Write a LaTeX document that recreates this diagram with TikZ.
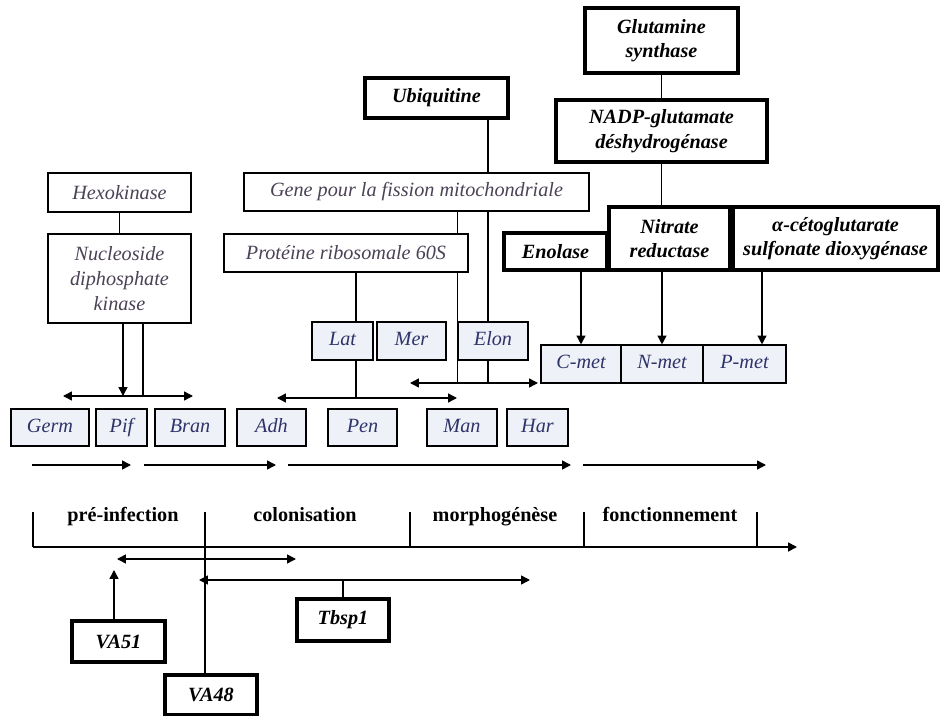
\documentclass[tikz,border=0pt]{standalone}
\usepackage{fontspec}
\setmainfont{Liberation Serif}
\usetikzlibrary{arrows.meta}
\definecolor{boxblue}{HTML}{EEF1F8}
\definecolor{inkblue}{HTML}{2E3468}
\definecolor{inkgrey}{HTML}{4B4256}
\tikzset{
	genebox/.style={draw, line width=0.9pt, fill=white, text=inkgrey, align=center, inner sep=1pt, font=\fontsize{11.5}{14}\selectfont\itshape},
	keybox/.style={draw, line width=1.8pt, fill=white, align=center, inner sep=1pt, font=\fontsize{11.5}{14}\selectfont\bfseries\itshape},
	stagebox/.style={draw, line width=0.9pt, fill=boxblue, text=inkblue, minimum height=0.75cm, text height=1.6ex, text depth=0.4ex, inner sep=1pt, font=\fontsize{11.5}{14}\selectfont\itshape},
	phase/.style={text height=1.6ex, text depth=0.4ex, font=\fontsize{11.5}{14}\selectfont\bfseries},
	conn/.style={line width=0.8pt},
	axis/.style={line width=1pt},
	tip/.style={-{Triangle[length=5pt,width=5pt]}},
	tips/.style={{Triangle[length=5pt,width=5pt]}-{Triangle[length=5pt,width=5pt]}}
}

\begin{document}
\begin{tikzpicture}[x=0.02cm, y=-0.02cm]
			%%%%% START %%%%%
			\useasboundingbox (0,0) rectangle (940,716);
			
			% gene boxes
			\node[genebox, minimum width=2.86cm, minimum height=0.78cm] (hexo) at (119.5,192.5) {Hexokinase};
			\node[genebox, minimum width=2.86cm, minimum height=1.78cm] (ndk) at (119.5,278.5) {Nucleoside\\diphosphate\\kinase};
			\node[keybox, minimum width=2.86cm, minimum height=0.8cm] (ubi) at (436.5,98) {Ubiquitine};
			\node[genebox, minimum width=6.9cm, minimum height=0.76cm] (gene) at (416.5,192) {Gene pour la fission mitochondriale};
			\node[genebox, minimum width=4.88cm, minimum height=0.76cm] (prot) at (346,253) {Protéine ribosomale 60S};
			
			\node[keybox, minimum width=3.06cm, minimum height=1.3cm] (glut) at (661.5,40.5) {Glutamine\\synthase};
			\node[keybox, minimum width=4.22cm, minimum height=1.24cm] (nadp) at (661.5,131) {NADP-glutamate\\déshydrogénase};
			\node[keybox, minimum width=2.42cm, minimum height=1.26cm] (nitr) at (669.5,238.5) {Nitrate\\reductase};
			\node[keybox, minimum width=4.1cm, minimum height=1.26cm] (akg) at (835.5,238.5) {α-cétoglutarate\\sulfonate dioxygénase};
			\node[keybox, minimum width=2.06cm, minimum height=0.74cm] (enol) at (555.5,251.5) {Enolase};
			
			% stage boxes
			\node[stagebox, minimum width=1.22cm] (lat) at (342.5,341) {Lat};
			\node[stagebox, minimum width=1.38cm] (mer) at (411.5,341) {Mer};
			\node[stagebox, minimum width=1.4cm] (elon) at (493,341) {Elon};
			\node[stagebox, minimum width=1.6cm] (cmet) at (581,364) {C-met};
			\node[stagebox, minimum width=1.64cm] (nmet) at (662,364) {N-met};
			\node[stagebox, minimum width=1.66cm] (pmet) at (744.5,364) {P-met};
			
			\node[stagebox, minimum width=1.56cm] (germ) at (50,427.5) {Germ};
			\node[stagebox, minimum width=1.02cm] (pif) at (121.5,427.5) {Pif};
			\node[stagebox, minimum width=1.4cm] (bran) at (190,427.5) {Bran};
			\node[stagebox, minimum width=1.38cm] (adh) at (271.5,427.5) {Adh};
			\node[stagebox, minimum width=1.38cm] (pen) at (362.5,427.5) {Pen};
			\node[stagebox, minimum width=1.4cm] (man) at (462,427.5) {Man};
			\node[stagebox, minimum width=1.22cm] (har) at (537.5,427.5) {Har};
			
			% links, left
			\draw[conn] (hexo) -- (ndk);
			\coordinate (ndkleft) at (63,396);
			\coordinate (ndkright) at (193,396);
			\draw[conn, tips] (ndkleft) -- (ndkright);
			\draw[conn, tip] ([xshift=0.07cm]ndk.south) -- ([xshift=0.07cm]ndk.south |- ndkleft);
			\draw[conn] ([xshift=0.47cm]ndk.south) -- ([xshift=0.47cm]ndk.south |- ndkleft);
			
			% links, middle
			\coordinate (latleft) at (277,398);
			\coordinate (latright) at (457,398);
			\coordinate (latbus) at (356,398);
			\draw[conn, tips] (latleft) -- (latright);
			\draw[conn] (prot.south -| latbus) -- (lat.north -| latbus) (lat.south -| latbus) -- (latbus);
			
			\coordinate (elonleft) at (410,383);
			\coordinate (elonright) at (538,383);
			\coordinate (ubibus) at (488,383);
			\draw[conn, tips] (elonleft) -- (elonright);
			\draw[conn] (ubi.south -| ubibus) -- (gene.north -| ubibus) (gene.south -| ubibus) -- (elon.north -| ubibus) (elon.south -| ubibus) -- (ubibus);
			\draw[conn] (gene.south -| elon.west) -- (prot.north -| elon.west) (prot.south -| elon.west) -- (elon.west |- elonleft);
			
			% links, right
			\draw[conn] (glut) -- (nadp);
			\draw[conn] (nadp.south) -- (nitr.north -| nadp.south);
			\draw[conn, tip] (enol.south -| cmet) -- (cmet.north);
			\draw[conn, tip] (nitr.south -| nmet) -- (nmet.north);
			\draw[conn, tip] ([xshift=0.35cm]pmet.north |- akg.south) -- ([xshift=0.35cm]pmet.north);
			
			% stage arrows
			\foreach \a/\b in {32/131, 144/276, 288/571, 583/766}
				\draw[conn, tip] (\a,465) -- (\b,465);
			
			% time line
			\coordinate (t0) at (33,547);
			\coordinate (tend) at (797,547);
			\draw[axis, tip] (t0) -- (tend);
			\foreach \x in {33,205,410,584,757}
				\draw[axis] (\x,512) -- (\x,547);
			\node[phase] (pre) at (123,517) {pré-infection};
			\node[phase] (colo) at (305,517) {colonisation};
			\node[phase] (morph) at (495,517) {morphogénèse};
			\node[phase] (fonc) at (670,517) {fonctionnement};
			
			% lower genes
			\node[keybox, minimum width=1.86cm, minimum height=0.82cm] (va51) at (118.5,641.5) {VA51};
			\node[keybox, minimum width=1.84cm, minimum height=0.8cm] (va48) at (211,695) {VA48};
			\node[keybox, minimum width=1.84cm, minimum height=0.84cm] (tbsp) at (343,620) {Tbsp1};
			
			\coordinate (valeft) at (117,559);
			\coordinate (varight) at (296,559);
			\coordinate (vatip) at (114,570);
			\coordinate (va48top) at (205,547);
			\draw[conn, tips] (valeft) -- (varight);
			\draw[conn, tip] (va51.north -| vatip) -- (vatip);
			\draw[conn] (va48.north -| va48top) -- (va48top);
			
			\coordinate (tbspleft) at (199,580);
			\coordinate (tbspright) at (530,580);
			\draw[conn, tips] (tbspleft) -- (tbspright);
			\draw[conn] (tbsp.north) -- (tbsp.north |- tbspleft);
			
			%%%%% END %%%%%
\end{tikzpicture}
\end{document}
